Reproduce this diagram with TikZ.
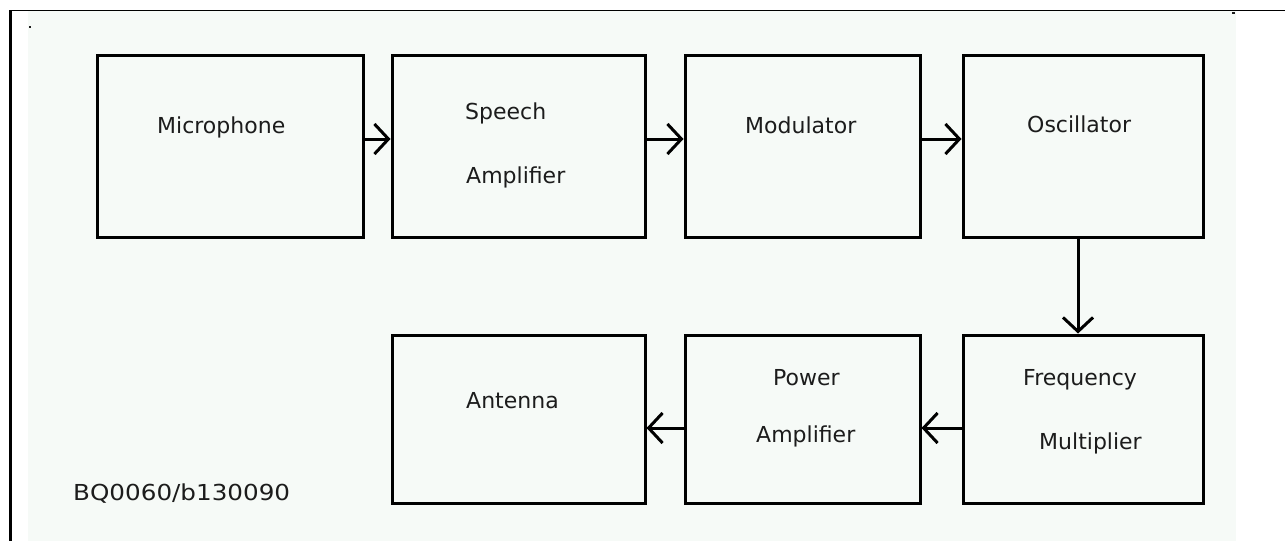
\documentclass[tikz,border=0pt]{standalone}
\usepackage{fontspec}
\setmainfont{DejaVu Sans}
\usetikzlibrary{arrows.meta, positioning}
\definecolor{mint}{RGB}{246,250,247}
\definecolor{ink}{RGB}{28,28,28}
\tikzset{
  blok/.style={draw, line width=3pt, fill=mint, inner sep=0pt, minimum width=#1},
  rowa/.style={minimum height=182pt},
  rowb/.style={minimum height=168pt},
  lbl/.style={anchor=base west, inner sep=0pt, text=ink, font=\fontsize{22}{26}\selectfont},
  conn/.style={line width=3pt, -{Straight Barb[length=14pt, width=30pt]}}
}
\begin{document}
\begin{tikzpicture}[x=1pt, y=-1pt]
\useasboundingbox (0,0) rectangle (1285,541);
\fill[mint] (28,11) rectangle (1236,541);
\draw[line width=1.5pt] (10,10.5) -- (1285,10.5);
\draw[line width=3pt] (10.5,10) -- (10.5,541);
\fill[ink] (29,26) rectangle (31,28);
\fill[ink] (1232,12) rectangle (1235,14);
  % top row
\node[blok=266pt, rowa] (mic) at (230,146) {};
\node[blok=253pt, rowa] (spch) at (518.5,146) {};
\node[blok=235pt, rowa] (mod) at (802.5,146) {};
\node[blok=240pt, rowa] (osc) at (1083,146) {};
  % bottom row
\node[blok=253pt, rowb] (ant) at (518.5,419) {};
\node[blok=235pt, rowb] (pwr) at (802.5,419) {};
\node[blok=240pt, rowb] (frq) at (1083,419) {};
  % labels
\node[lbl] (t-mic) at (157,133) {Microphone};
\node[lbl] (t-spch1) at (465,119) {Speech};
\node[lbl] (t-spch2) at (466,183) {Amplifier};
\node[lbl] (t-mod) at (745,133) {Modulator};
\node[lbl] (t-osc) at (1027,132) {Oscillator};
\node[lbl] (t-frq1) at (1023,385) {Frequency};
\node[lbl] (t-frq2) at (1039,449) {Multiplier};
\node[lbl] (t-pwr1) at (773,385) {Power};
\node[lbl] (t-pwr2) at (756,442) {Amplifier};
\node[lbl] (t-ant) at (466,408) {Antenna};
\node[lbl] (t-code) at (73,500) {\scalebox{1.12}[1]{BQ0060/b130090}};
  % connectors
\draw[conn] ([yshift=7pt]mic.east) -- ([yshift=7pt]spch.west);
\draw[conn] ([yshift=7pt]spch.east) -- ([yshift=7pt]mod.west);
\draw[conn] ([yshift=7pt]mod.east) -- ([yshift=7pt]osc.west);
\draw[conn] ([xshift=-5pt]osc.south) -- ([xshift=-5pt]frq.north);
\draw[conn] ([yshift=-9pt]frq.west) -- ([yshift=-9pt]pwr.east);
\draw[conn] ([yshift=-9pt]pwr.west) -- ([yshift=-9pt]ant.east);
\end{tikzpicture}
\end{document}
